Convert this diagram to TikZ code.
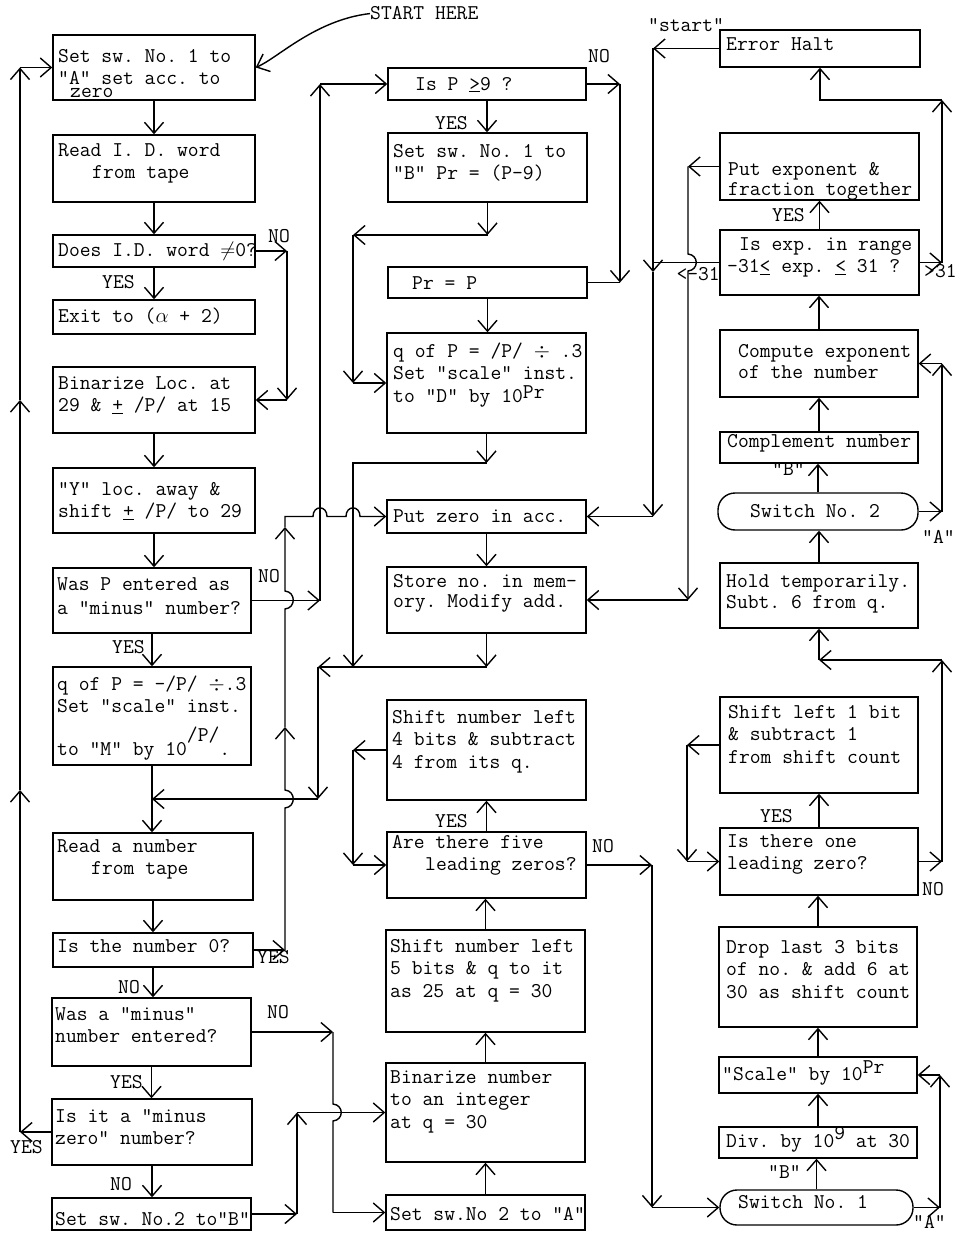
\documentclass[tikz,border=0pt]{standalone}
\usetikzlibrary{arrows.meta,fit}
\newcommand{\twfont}{\fontsize{21}{22.5}\selectfont\ttfamily\frenchspacing}
\begin{document}
\begin{tikzpicture}[x=1pt,y=-1pt,
  box/.style={draw,line width=1.4pt,inner sep=0pt},
  sbox/.style={box,rounded corners=17pt},
  tx/.style={font=\twfont,align=left,inner sep=0pt,anchor=north west,yshift=15.75pt},
  lb/.style={font=\twfont,inner sep=0pt,anchor=base west},
  ln/.style={line width=1.4pt},
  ar/.style={ln,-{Straight Barb[length=11pt,width=19pt]}}]
\fill[white] (0,0) rectangle (958,1233);
\useasboundingbox (0,0) rectangle (958,1233);

% ---------------- column 1 boxes
\node[box,fit={(53,35)(255,100)}] (b1) {};
\node[box,fit={(53,135)(255,202)}] (b2) {};
\node[box,fit={(53,235)(255,267)}] (b3) {};
\node[box,fit={(53,300)(255,334)}] (b4) {};
\node[box,fit={(53,367)(255,433)}] (b5) {};
\node[box,fit={(53,468)(255,533)}] (b6) {};
\node[box,fit={(53,568)(251,633)}] (b7) {};
\node[box,fit={(53,667)(251,765)}] (b8) {};
\node[box,fit={(53,833)(253,900)}] (b9) {};
\node[box,fit={(53,933)(253,967)}] (b10) {};
\node[box,fit={(52,998)(251,1066)}] (b11) {};
\node[box,fit={(52,1099)(252,1165)}] (b12) {};
\node[box,fit={(52,1198)(251,1230)}] (b13) {};

\node[tx] (b1t) at (58,62) {\strut Set sw. No. 1 to\\"A" set acc. to\\[-10pt]\hspace*{12pt}zero};
\node[tx] (b2t) at (58,156) {\strut Read I. D. word\\\hspace*{34pt}from tape};
\node[tx] (b3t) at (58,256) {\strut Does I.D. word $\neq$0?};
\node[tx] (b4t) at (58,322) {\strut Exit to ($\alpha$ + 2)};
\node[tx] (b5t) at (58,389) {\strut Binarize Loc. at\\29 \& \underline{+} /P/ at 15};
\node[tx] (b6t) at (58,495) {\strut "Y" loc. away \&\\shift \underline{+} /P/ to 29};
\node[tx] (b7t) at (57,590) {\strut Was P entered as\\[2pt]a "minus" number?};
\node[tx] (b8t) at (57,690) {\strut q of P = -/P/ $\div$.3\\Set "scale" inst.\\[20pt]to "M" by 10\smash{\raisebox{14pt}{/P/}}.};
\node[tx] (b9t) at (57,852) {\strut Read a number\\\hspace*{34pt}from tape};
\node[tx] (b10t) at (57,952) {\strut Is the number 0?};
\node[tx] (b11t) at (55,1020) {\strut Was a "minus"\\number entered?};
\node[tx] (b12t) at (55,1122) {\strut Is it a "minus\\zero" number?};
\node[tx] (b13t) at (55,1225) {\strut Set sw. No.2 to"B"};

% ---------------- column 2 boxes
\node[box,fit={(388,68)(586,100)}] (c1) {};
\node[box,fit={(388,133)(587,202)}] (c2) {};
\node[box,fit={(388,267)(587,298)}] (c3) {};
\node[box,fit={(387,333)(586,433)}] (c4) {};
\node[box,fit={(387,500)(586,533)}] (c5) {};
\node[box,fit={(387,567)(586,633)}] (c6) {};
\node[box,fit={(387,700)(586,800)}] (c7) {};
\node[box,fit={(387,832)(586,898)}] (c8) {};
\node[box,fit={(386,930)(585,1032)}] (c9) {};
\node[box,fit={(386,1063)(585,1162)}] (c10) {};
\node[box,fit={(386,1195)(585,1230)}] (c11) {};

\node[tx] (c1t) at (415,90) {\strut Is P \underline{>}9 ?};
\node[tx] (c2t) at (393,157) {\strut Set sw. No. 1 to\\"B" Pr = (P-9)};
\node[tx] (c3t) at (412,289) {\strut Pr = P};
\node[tx] (c4t) at (393,357) {\strut q of P = /P/ $\div$ .3\\Set "scale" inst.\\to "D" by 10\smash{\raisebox{4pt}{Pr}}};
\node[tx] (c5t) at (393,522) {\strut Put zero in acc.};
\node[tx] (c6t) at (393,587) {\strut Store no. in mem-\\[-2.5pt]ory. Modify add.};
\node[tx] (c7t) at (392,723) {\strut Shift number left\\4 bits \& subtract\\4 from its q.};
\node[tx] (c8t) at (392,848) {\strut Are there five\\\hspace*{33pt}leading zeros?};
\node[tx] (c9t) at (390,952) {\strut Shift number left\\5 bits \& q to it\\as 25 at q = 30};
\node[tx] (c10t) at (390,1083) {\strut Binarize number\\to an integer\\at q = 30};
\node[tx] (c11t) at (390,1220) {\strut Set sw.No 2 to "A"};

% ---------------- column 3 boxes
\node[box,fit={(720,30)(920,67)}] (d1) {};
\node[box,fit={(720,133)(919,200)}] (d2) {};
\node[box,fit={(720,230)(919,295)}] (d3) {};
\node[box,fit={(720,330)(918,397)}] (d4) {};
\node[box,fit={(720,432)(918,463)}] (d5) {};
\node[sbox,fit={(718,493)(918,530)}] (d6) {};
\node[box,fit={(720,563)(918,628)}] (d7) {};
\node[box,fit={(720,697)(918,793)}] (d8) {};
\node[box,fit={(720,828)(918,895)}] (d9) {};
\node[box,fit={(719,927)(917,1027)}] (d10) {};
\node[box,fit={(719,1057)(917,1093)}] (d11) {};
\node[box,fit={(719,1127)(917,1158)}] (d12) {};
\node[sbox,fit={(720,1190)(913,1225)}] (d13) {};

\node[tx] (d1t) at (726,50) {\strut Error Halt};
\node[tx] (d2t) at (728,175) {\strut Put exponent \&\\[-2.5pt]fraction together};
\node[tx] (d3t) at (727,250) {\strut\hspace*{12pt}Is exp. in range\\-31\underline{<} exp. \underline{<} 31 ?};
\node[tx] (d4t) at (738,357) {\strut Compute exponent\\[-1.5pt]of the number};
\node[tx] (d5t) at (727,447) {\strut Complement number};
\node[tx] (d6t) at (750,517) {\strut Switch No. 2};
\node[tx] (d7t) at (726,587) {\strut Hold temporarily.\\[-1.5pt]Subt. 6 from q.};
\node[tx] (d8t) at (728,718) {\strut Shift left 1 bit\\\& subtract 1\\from shift count};
\node[tx] (d9t) at (727,847) {\strut Is there one\\leading zero?};
\node[tx] (d10t) at (726,953) {\strut Drop last 3 bits\\of no. \& add 6 at\\30 as shift count};
\node[tx] (d11t) at (722,1080) {\strut "Scale" by 10\smash{\raisebox{7pt}{Pr}}};
\node[tx] (d12t) at (726,1147) {\strut Div. by 10\smash{\raisebox{8pt}{9}} at 30};
\node[tx] (d13t) at (738,1208) {\strut Switch No. 1};

% ---------------- labels
\node[lb] (sh) at (370,20) {START HERE};
\node[lb] (l1) at (268,243) {NO};
\node[lb] (l2) at (102,288) {YES};
\node[lb] (l3) at (588,63) {NO};
\node[lb] (l4) at (435,130) {YES};
\node[lb] (l5) at (258,582) {NO};
\node[lb] (l6) at (112,653) {YES};
\node[lb] (l7) at (257,963) {YES};
\node[lb] (l8) at (118,993) {NO};
\node[lb] (l9) at (267,1018) {NO};
\node[lb] (l10) at (110,1088) {YES};
\node[lb] (l11) at (10,1153) {YES};
\node[lb] (l12) at (110,1190) {NO};
\node[lb] (l13) at (435,827) {YES};
\node[lb] (l14) at (592,852) {NO};
\node[lb] (l15) at (648,32) {"start"};
\node[lb] (l16) at (772,222) {YES};
\node[lb,anchor=base east] (l17) at (720,280) {<-31};
\node[lb] (l18) at (924,277) {>31};
\node[lb] (l19) at (772,475) {"B"};
\node[lb] (l20) at (922,543) {"A"};
\node[lb] (l21) at (760,822) {YES};
\node[lb] (l22) at (922,895) {NO};
\node[lb] (l23) at (768,1178) {"B"};
\node[lb] (l24) at (913,1228) {"A"};

% ---------------- straight connectors
\foreach \a/\b in {b1/b2,b2/b3,b3/b4,b5/b6,b6/b7,b7/b8,b8/b9,b9/b10,b10/b11,b11/b12,b12/b13,
                   c1/c2,c3/c4,c5/c6}
  \draw[ar] (\a.south) -- (\a.south |- \b.north);
\foreach \a/\b in {c8/c7,c9/c8,c10/c9,c11/c10,
                   d3/d2,d4/d3,d5/d4,d6/d5,d7/d6,d9/d8,d10/d9,d11/d10,d12/d11,d13/d12}
  \draw[ar] (\a.north) -- (\a.north |- \b.south);

% START HERE
\draw[ar] (sh.west) .. controls (315,20) and (278,58) .. (b1.east);

% b3 NO
\coordinate (nA) at (287,251);
\coordinate (nB) at (287,400);
\draw[ar] (b3.east) -- (nA);
\draw[ar] (nA) -- (nB);
\draw[ar] (nB) -- (b5.east);

% b7 NO
\coordinate (pA) at (320,600.5);
\coordinate (pB) at (320,84);
\draw[ar] (b7.east) -- (pA);
\draw[ar] (pA) -- (pB);
\draw[ar] (pB) -- (c1.west);

% b10 YES
\coordinate (qA) at (285,950);
\coordinate (qB) at (285,727);
\coordinate (qC) at (285,527);
\coordinate (qD) at (285,516.5);
\draw[ar] (b10.east) -- (qA);
\draw[ar] (qA) -- (285,808) .. controls (296,807) and (296,791) .. (285,790) -- (qB);
\draw[ar] (qB) -- (285,609) .. controls (296,608) and (296,592) .. (285,591) -- (qC);
\draw[ar] (qC) -- (qD) -- (313,516.5) .. controls (313,505) and (327,505) .. (327,516.5)
  -- (346,516.5) .. controls (346,505) and (360,505) .. (360,516.5) -- (c5.west);

% c4 down
\coordinate (sA) at (486.5,463);
\coordinate (sB) at (353,463);
\coordinate (sC) at (353,667);
\draw[ar] (c4.south) -- (sA);
\draw[ar] (sA) -- (sB) -- (sC);

% c6 down
\coordinate (tA) at (486.5,667);
\coordinate (tB) at (318,667);
\coordinate (tC) at (318,799);
\coordinate (tD) at (152,799);
\draw[ar] (c6.south) -- (tA);
\draw[ar] (tA) -- (tB);
\draw[ar] (tB) -- (tC);
\draw[ar] (tC) -- (tD);

% c2 down
\coordinate (uA) at (487.5,235);
\coordinate (uB) at (353,235);
\coordinate (uC) at (353,383);
\draw[ar] (c2.south) -- (uA);
\draw[ar] (uA) -- (uB);
\draw[ar] (uB) -- (uC);
\draw[ar] (uC) -- (c4.west);

% c1 NO
\coordinate (vA) at (620,84);
\coordinate (vB) at (620,282.5);
\draw[ar] (c1.east) -- (vA);
\draw[ar] (vA) -- (vB);
\draw[ln] (vB) -- (c3.east);

% Error halt -> start
\coordinate (wA) at (653,48.5);
\coordinate (wB) at (653,262.5);
\coordinate (wD) at (653,272);
\coordinate (wC) at (653,516.5);
\draw[ar] (d1.west) -- (wA);
\draw[ar] (wA) -- (wD);
\draw[ln] (d3.west) -- (wB);
\draw[ar] (wD) -- (wC);
\draw[ar] (wC) -- (c5.east);

% d2 left
\coordinate (xA) at (688,166.5);
\coordinate (xB) at (688,600);
\draw[ar] (d2.west) -- (xA);
\draw[ar] (xA) -- (688,254) .. controls (699,255) and (699,270) .. (688,271) -- (xB);
\draw[ar] (xB) -- (c6.east);

% d3 >31
\coordinate (yA) at (942,262.5);
\coordinate (yB) at (942,100);
\coordinate (yC) at (820,100);
\draw[ar] (d3.east) -- (yA);
\draw[ar] (yA) -- (yB);
\draw[ar] (yB) -- (yC) -- (d1.south);

% d6 A
\coordinate (zA) at (942,511.5);
\coordinate (zB) at (942,363.5);
\draw[ar] (d6.east) -- (zA);
\draw[ar] (zA) -- (zB);
\draw[ar] (zB) -- (d4.east);

% d9 NO
\coordinate (aA) at (942,861.5);
\coordinate (aB) at (942,660);
\coordinate (aC) at (819,660);
\draw[ar] (d9.east) -- (aA);
\draw[ar] (aA) -- (aB);
\draw[ar] (aB) -- (aC);
\draw[ar] (aC) -- (d7.south);

% d8 left
\coordinate (bA) at (687,745);
\coordinate (bB) at (687,861.5);
\draw[ar] (d8.west) -- (bA);
\draw[ar] (bA) -- (bB);
\draw[ar] (bB) -- (d9.west);

% c7 left
\coordinate (cA) at (353,750);
\coordinate (cB) at (353,865);
\draw[ar] (c7.west) -- (cA);
\draw[ar] (cA) -- (cB);
\draw[ar] (cB) -- (c8.west);

% c8 NO
\coordinate (dA) at (652,865);
\coordinate (dB) at (652,1207.5);
\draw[ar] (c8.east) -- (dA);
\draw[ar] (dA) -- (dB);
\draw[ar] (dB) -- (d13.west);

% d13 A
\coordinate (eA) at (940,1207.5);
\coordinate (eB) at (940,1075);
\draw[ar] (d13.east) -- (eA);
\draw[ar] (eA) -- (eB);
\draw[ar] (eB) -- (d11.east);

% b11 NO
\coordinate (fA) at (333,1032);
\coordinate (fB) at (333,1212.5);
\draw[ar] (b11.east) -- (fA);
\draw[ln] (fA) -- (333,1104) .. controls (344,1105) and (344,1120) .. (333,1121) -- (fB);
\draw[ar] (fB) -- (c11.west);

% b13 right
\coordinate (gA) at (297,1214);
\coordinate (gB) at (297,1112.5);
\draw[ar] (b13.east) -- (gA);
\draw[ar] (gA) -- (gB);
\draw[ar] (gB) -- (c10.west);

% b12 YES loop
\coordinate (hA) at (20,1132);
\coordinate (hB) at (20,790);
\coordinate (hC) at (20,400);
\coordinate (hD) at (20,67.5);
\draw[ar] (b12.west) -- (hA);
\draw[ar] (hA) -- (hB);
\draw[ar] (hB) -- (hC);
\draw[ar] (hC) -- (hD);
\draw[ar] (hD) -- (b1.west);
\end{tikzpicture}
\end{document}
